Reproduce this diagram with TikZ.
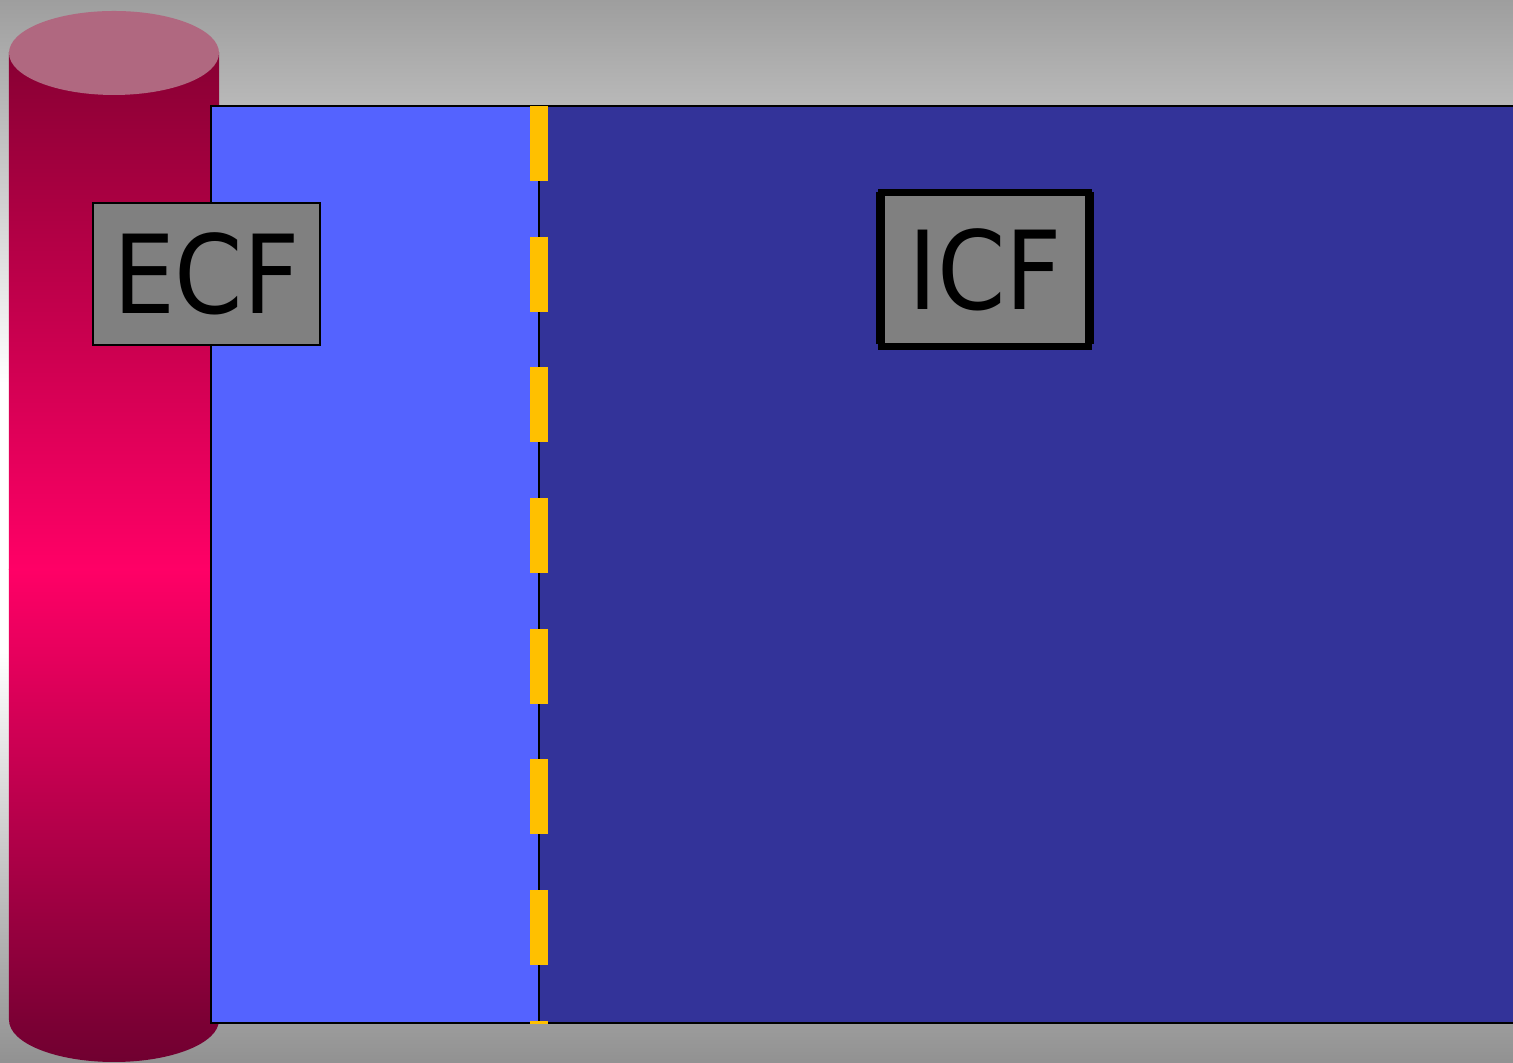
\documentclass[tikz,border=0pt]{standalone}
\usepackage{fontspec}
\setmainfont{DejaVu Sans Condensed}
\usepackage{xcolor}
\usepackage{tikz}

\definecolor{ecfblue}{HTML}{5463FF}
\definecolor{icfblue}{HTML}{333399}
\definecolor{poregold}{HTML}{FFC000}
\definecolor{vesseltop}{HTML}{B06880}
\definecolor{vesseldark}{HTML}{880033}
\definecolor{vesselpink}{HTML}{FF0066}
\definecolor{vesselbot}{HTML}{700030}
\definecolor{tagfill}{HTML}{808080}

\begin{document}
\begin{tikzpicture}[
  tag/.style={draw, fill=tagfill, inner sep=0pt, font=\fontsize{31}{36}\selectfont},
  fluid/.style={draw, line width=0.6pt}
]
\useasboundingbox (0,0) rectangle (15.13,10.63);
\clip (0,0) rectangle (15.13,10.63);
% backdrop
\shade[top color=black!38, bottom color=white] (0,6.80) rectangle (15.13,10.63);
\fill[white] (0,4.10) rectangle (15.13,6.81);
\shade[top color=white, bottom color=black!43] (0,0) rectangle (15.13,4.11);
% vessel
\shade[top color=vesseldark, bottom color=vesselpink] (0.09,4.93) rectangle (2.19,10.10);
\shade[top color=vesselpink, bottom color=vesselbot]
  (0.09,4.94) -- (0.09,0.43) arc[start angle=180, end angle=360, x radius=1.05, y radius=0.42]
  -- (2.19,4.94) -- cycle;
\fill[vesseltop] (1.14,10.10) ellipse[x radius=1.05, y radius=0.42];
% compartments
\fill[ecfblue] (2.11,0.40) rectangle (5.39,9.57);
\fill[icfblue] (5.39,0.40) rectangle (15.30,9.57);
\draw[fluid] (2.11,0.40) rectangle (15.30,9.57);
\draw[fluid] (5.39,0.40) -- (5.39,9.57);
% membrane
\draw[poregold, line width=0.18cm, dash pattern=on 0.75cm off 0.557cm] (5.39,9.57) -- (5.39,0.39);
% labels
\node[tag, line width=0.6pt, minimum width=2.27cm, minimum height=1.42cm] (ecf) at (2.065,7.89) {ECF};
\draw[line width=0.5pt] (8.77,7.20) rectangle (10.93,8.70);
\node[tag, line width=2pt, minimum width=2.07cm, minimum height=1.54cm] (icf) at (9.85,7.935) {ICF};
\end{tikzpicture}
\end{document}
